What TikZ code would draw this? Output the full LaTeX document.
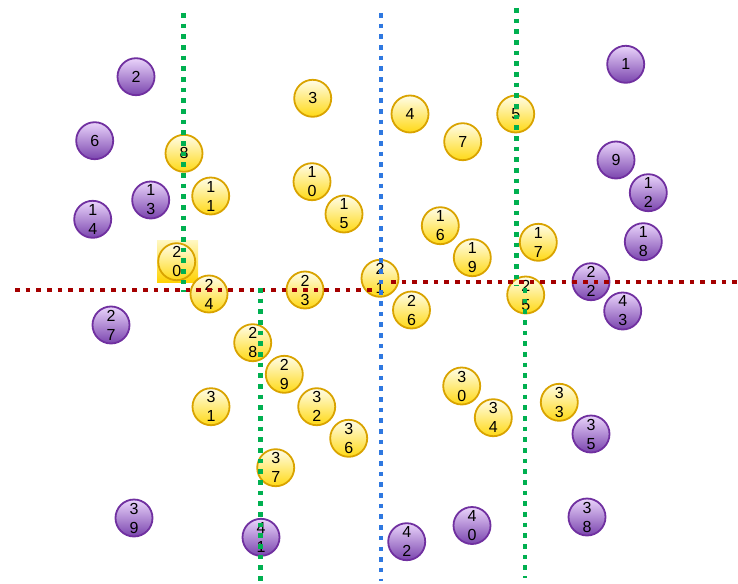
\documentclass[tikz,border=0pt]{standalone}
\usepackage{fontspec}
\setmainfont{Liberation Sans}
\definecolor{pborder}{HTML}{7030A0}
\definecolor{ptop}{HTML}{EAD4FB}
\definecolor{pbot}{HTML}{7A45AE}
\definecolor{yborder}{HTML}{D9A300}
\definecolor{ytop}{HTML}{FFFDE8}
\definecolor{ybot}{HTML}{FFD915}
\definecolor{gline}{HTML}{00B050}
\definecolor{bline}{HTML}{2F78E0}
\definecolor{rline}{HTML}{A50000}
\definecolor{hltop}{HTML}{FFF7C0}
\definecolor{hlbot}{HTML}{FFD200}
\tikzset{
  ball/.style={circle, minimum size=37pt, inner sep=0pt, line width=1.8pt, align=center,
    font=\fontsize{16}{19}\selectfont},
  pball/.style={ball, draw=pborder, top color=ptop, bottom color=pbot},
  yball/.style={ball, draw=yborder, top color=ytop, bottom color=ybot},
  hlbox/.style={rectangle, minimum width=41pt, minimum height=42pt, inner sep=0pt, top color=hltop, bottom color=hlbot},
  sepline/.style={line width=4.6pt, dash pattern=on 4.6pt off 6.07pt},
}
\begin{document}
\begin{tikzpicture}[x=1pt,y=-1pt]
\useasboundingbox (0,0) rectangle (738,583);
% highlight
\node[hlbox] (hl) at (177.7,261.8) {};
% purple
\node[pball] (n1) at (625.7,64.3) {1};
\node[pball] (n2) at (136,76.7) {2};
\node[pball] (n6) at (94.7,140.7) {6};
\node[pball] (n9) at (616,160) {9};
\node[pball] (n12) at (648.3,192.7) {1\\2};
\node[pball] (n13) at (150.7,200) {1\\3};
\node[pball] (n14) at (92.7,219.3) {1\\4};
\node[pball] (n18) at (643.3,241.7) {1\\8};
\node[pball] (n22) at (591,281.7) {2\\2};
\node[pball] (n43) at (622.7,311) {4\\3};
\node[pball] (n27) at (111,325) {2\\7};
\node[pball] (n35) at (591,434) {3\\5};
\node[pball] (n38) at (587,517) {3\\8};
\node[pball] (n39) at (134,518) {3\\9};
\node[pball] (n41) at (261,537.3) {4\\1};
\node[pball] (n40) at (472,525.5) {4\\0};
\node[pball] (n42) at (406.7,541.7) {4\\2};
% yellow
\node[yball] (n3) at (312.7,98.3) {3};
\node[yball] (n4) at (410,114) {4};
\node[yball] (n5) at (515.7,114) {5};
\node[yball] (n7) at (462.7,141.7) {7};
\node[yball] (n8) at (184,153.3) {8};
\node[yball] (n10) at (312,181.7) {1\\0};
\node[yball] (n11) at (210.7,196) {1\\1};
\node[yball] (n15) at (344,214) {1\\5};
\node[yball] (n16) at (440.3,225.7) {1\\6};
\node[yball] (n17) at (538.3,242.3) {1\\7};
\node[yball] (n19) at (472.3,257.7) {1\\9};
\node[yball] (n20) at (176.7,261.7) {2\\0};
\node[yball] (n21) at (380,278.3) {2\\1};
\node[yball] (n23) at (305,290) {2\\3};
\node[yball] (n24) at (209,294) {2\\4};
\node[yball] (n25) at (525.7,295) {2\\5};
\node[yball] (n26) at (411.5,310) {2\\6};
\node[yball] (n28) at (252.7,342.7) {2\\8};
\node[yball] (n29) at (284.3,374.3) {2\\9};
\node[yball] (n30) at (461.7,386) {3\\0};
\node[yball] (n31) at (211,406.7) {3\\1};
\node[yball] (n32) at (316.7,406.7) {3\\2};
\node[yball] (n33) at (559.3,402.3) {3\\3};
\node[yball] (n34) at (493.3,417.7) {3\\4};
\node[yball] (n36) at (348.7,438.3) {3\\6};
\node[yball] (n37) at (275.7,467.7) {3\\7};
% line end points
\coordinate (gAtop) at (183.3,13);
\coordinate (gAbot) at (183.3,292);
\coordinate (gBtop) at (260.5,288);
\coordinate (gBbot) at (260.5,581);
\coordinate (bTop) at (381,13);
\coordinate (bBot) at (381,581);
\coordinate (gCtop) at (516.7,8);
\coordinate (gCbot) at (516.7,286);
\coordinate (gDtop) at (525,288);
\coordinate (gDbot) at (525,578);
\coordinate (rAleft) at (15,290);
\coordinate (rAright) at (375,290);
\coordinate (rBleft) at (391,282);
\coordinate (rBright) at (738,282);
% lines
\draw[sepline, rline] (rAleft) -- (rAright);
\draw[sepline, rline] (rBleft) -- (rBright);
\draw[sepline, gline] (gAtop) -- (gAbot);
\draw[sepline, gline] (gBtop) -- (gBbot);
\draw[sepline, bline] (bTop) -- (bBot);
\draw[sepline, gline] (gCtop) -- (gCbot);
\draw[sepline, gline] (gDtop) -- (gDbot);
\end{tikzpicture}
\end{document}
